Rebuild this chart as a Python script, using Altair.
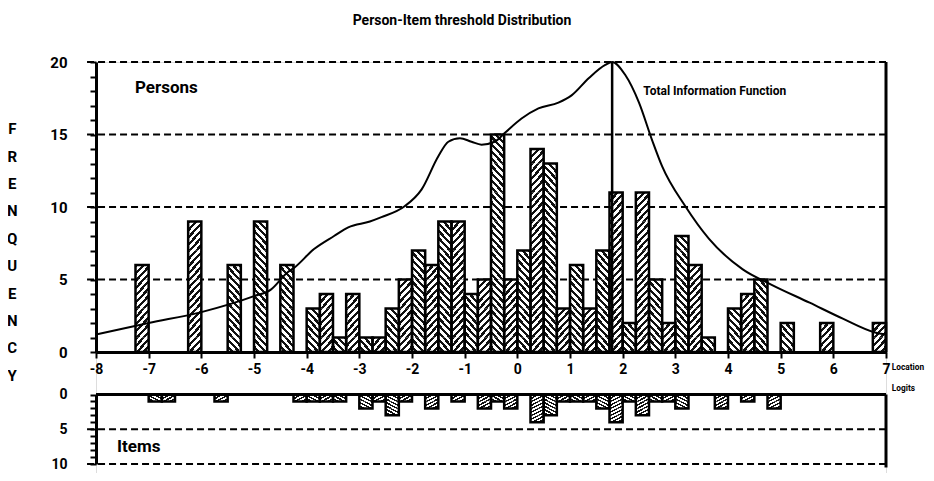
import altair as alt
import pandas as pd

FONT = "Roboto, Liberation Sans, sans-serif"

BIN_W = 0.25
# Persons: lower edge of each class interval (logits) and frequency
person_bin_start = [-7.25, -6.25, -5.5, -5.0, -4.5, -4.0, -3.75, -3.5, -3.25, -3.0, -2.75,
                    -2.5, -2.25, -2.0, -1.75, -1.5, -1.25, -1.0, -0.75, -0.5, -0.25, 0.0,
                    0.25, 0.5, 0.75, 1.0, 1.25, 1.5, 1.75, 2.0, 2.25, 2.5, 2.75, 3.0, 3.25,
                    3.5, 4.0, 4.25, 4.5, 5.0, 5.75, 6.75]
person_count = [6, 9, 6, 9, 6, 3, 4, 1, 4, 1, 1,
                3, 5, 7, 6, 9, 9, 4, 5, 15, 5, 7,
                14, 13, 3, 6, 3, 7, 11, 2, 11, 5, 2, 8, 6,
                1, 3, 4, 5, 2, 2, 2]
# Items (thresholds)
item_bin_start = [-7.0, -6.75, -5.75, -4.25, -4.0, -3.75, -3.5, -3.0, -2.75, -2.5, -2.25,
                  -1.75, -1.25, -0.75, -0.5, -0.25, 0.25, 0.5, 0.75, 1.0, 1.25, 1.5, 1.75,
                  2.0, 2.25, 2.5, 2.75, 3.0, 3.75, 4.25, 4.75]
item_count = [1, 1, 1, 1, 1, 1, 1, 2, 1, 3, 1,
              2, 1, 2, 1, 2, 4, 3, 1, 1, 1, 2, 4,
              1, 3, 1, 1, 2, 2, 1, 2]
# Total information function (scaled to frequency axis)
info_x = [-8.0, -7.0, -6.0, -5.0, -4.68, -4.36, -4.24, -3.86, -3.48, -3.21, -2.8, -2.58, -2.14,
          -1.82, -1.5, -1.31, -1.09, -0.87, -0.68, -0.43, -0.24, 0.08, 0.4, 0.78, 1.03,
          1.36, 1.67, 1.8, 2.05, 2.31, 2.56, 2.75, 3.19, 3.64, 4.28, 4.81, 5.55, 6.18,
          6.79, 7.0]
info_y = [1.2, 2.0, 2.75, 3.85, 4.3, 5.5, 5.8, 7.1, 8.0, 8.6, 9.0, 9.3, 10.05,
          11.2, 13.5, 14.5, 14.75, 14.5, 14.3, 14.5, 15.1, 16.1, 16.8, 17.2, 17.7,
          18.9, 19.8, 20.0, 19.1, 17.2, 14.6, 12.8, 10.05, 7.8, 5.7, 4.67, 3.4, 2.3,
          1.35, 1.2]
peak_x = [1.8]
x_ticks = list(range(-8, 8))
top_grid = [5, 10, 15, 20]
bottom_grid = [5, 10]

W, H = 790, 411
TOP_H = 290
BOT0, BOT1 = 332.5, 402


def units(starts, counts):
    rows = []
    for s, c in zip(starts, counts):
        k = int(round((s + 8) / BIN_W))
        for j in range(c):
            rows.append({"x0": s, "x1": s + BIN_W, "y0": j, "y1": j + 1, "fwd": k % 2})
    return pd.DataFrame(rows)


def bars(starts, counts):
    return pd.DataFrame({"x0": starts, "x1": [s + BIN_W for s in starts], "y0": 0, "y1": counts})


def hatch(fwd):
    n = 4
    stops = []
    for i in range(n):
        a, b, c = i / n, (i + 0.47) / n, (i + 1) / n
        stops += [alt.GradientStop(offset=a, color="#111"), alt.GradientStop(offset=b, color="#111"),
                  alt.GradientStop(offset=b, color="#fff"), alt.GradientStop(offset=c, color="#fff")]
    if fwd:
        return alt.LinearGradient(gradient="linear", x1=0, y1=0, x2=1, y2=1, stops=stops)
    return alt.LinearGradient(gradient="linear", x1=1, y1=0, x2=0, y2=1, stops=stops)


XS = alt.Scale(domain=[-8, 7], nice=False, zero=False)
XAX = alt.Axis(values=x_ticks, title=None, orient="bottom", offset=-(H - TOP_H), tickSize=6,
               tickWidth=2, tickColor="black", domainWidth=3, domainColor="black", grid=False,
               labelExpr="'' + datum.value",
               labelFont=FONT, labelFontSize=14, labelFontWeight="bold", labelColor="black",
               labelPadding=4, labelFlush=False, labelOverlap=False)


def X(field=None, datum=None):
    if datum is not None:
        return alt.X(datum=datum, type="quantitative", scale=XS, axis=XAX)
    return alt.X(field, type="quantitative", scale=XS, axis=XAX)


def YT(field=None, datum=None, axis=None):
    sc = alt.Scale(domain=[0, 20], range=[TOP_H, 0], nice=False, zero=False)
    if datum is not None:
        return alt.Y(datum=datum, type="quantitative", scale=sc, axis=axis)
    return alt.Y(field, type="quantitative", scale=sc, axis=axis)


def YB(field=None, datum=None, axis=None):
    sc = alt.Scale(domain=[0, 10], range=[BOT0, BOT1], nice=False, zero=False)
    if datum is not None:
        return alt.Y(datum=datum, type="quantitative", scale=sc, axis=axis)
    return alt.Y(field, type="quantitative", scale=sc, axis=axis)


def yaxis(vals, size):
    return alt.Axis(values=vals, title=None, orient="left", tickSize=6, tickWidth=2,
                    tickColor="black", domainWidth=3, domainColor="black", grid=False,
                    labelExpr="datum.value % 5 === 0 ? datum.label : ''",
                    labelFont=FONT, labelFontSize=size, labelFontWeight="bold",
                    labelColor="black", labelPadding=23)


DASH = [7, 4]

grid_top = alt.Chart(pd.DataFrame({"v": top_grid})).mark_rule(
    color="black", strokeWidth=2, strokeDash=DASH).encode(
    x=X(datum=-8.17), x2=alt.X2(datum=7), y=YT("v", axis=yaxis(list(range(0, 21)), 15)))

grid_bot = alt.Chart(pd.DataFrame({"v": bottom_grid})).mark_rule(
    color="black", strokeWidth=2, strokeDash=DASH).encode(
    x=X(datum=-8.17), x2=alt.X2(datum=7), y=YB("v", axis=yaxis(list(range(0, 11)), 14)))

pu = units(person_bin_start, person_count)
iu = units(item_bin_start, item_count)


def unit_layer(df, fwd, yfun):
    return alt.Chart(df).transform_filter(f"datum.fwd === {fwd}").mark_rect(
        fill=hatch(fwd == 1), strokeWidth=0).encode(
        x=X("x0"), x2="x1", y=yfun("y0"), y2="y1")


def outline(df, yfun):
    return alt.Chart(df).mark_rect(fillOpacity=0, stroke="black", strokeWidth=2.5).encode(
        x=X("x0"), x2="x1", y=yfun("y0"), y2="y1")


frame_df = pd.DataFrame({"a": [0]})
right_top = alt.Chart(frame_df).mark_rule(color="black", strokeWidth=3).encode(
    x=X(datum=7), y=YT(datum=0), y2=alt.Y2(datum=20))
right_bot = alt.Chart(frame_df).mark_rule(color="black", strokeWidth=3).encode(
    x=X(datum=7), y=YB(datum=0), y2=alt.Y2(datum=10.5))
top_bot = alt.Chart(frame_df).mark_rule(color="black", strokeWidth=3).encode(
    x=X(datum=-8), x2=alt.X2(datum=7), y=YB(datum=0))

curve = alt.Chart(pd.DataFrame({"x": info_x, "y": info_y})).mark_line(
    color="black", strokeWidth=2, interpolate="monotone").encode(x=X("x"), y=YT("y"))

peak = alt.Chart(pd.DataFrame({"x": peak_x})).mark_rule(color="black", strokeWidth=2.5).encode(
    x=X("x"), y=YT(datum=0), y2=alt.Y2(datum=20))


def label(text, x, y, yfun, size, **kw):
    return alt.Chart(frame_df).mark_text(
        text=text, font=FONT, fontSize=size, fontWeight="bold", color="black",
        align="left", baseline="middle", **kw).encode(x=X(datum=x), y=yfun(datum=y))


t_persons = label("Persons", -7.26, 18.24, YT, 17)
t_tif = label("Total Information Function", 2.39, 17.97, YT, 12)
t_items = label("Items", -7.6, 7.6, YB, 17)
t_loc = label("Location", 7.11, -1.07, YT, 8.3)
t_logit = label("Logits", 7.11, -2.55, YT, 8.3)
t_freq = alt.Chart(frame_df).mark_text(
    text="F\nR\nE\nN\nQ\nU\nE\nN\nC\nY", lineBreak="\n", lineHeight=27.4, font=FONT,
    fontSize=15, fontWeight="bold", color="black", align="center", baseline="top").encode(
    x=X(datum=-9.59), y=YT(datum=15.85))

chart = alt.layer(
    grid_top, grid_bot,
    unit_layer(pu, 1, YT), unit_layer(pu, 0, YT), outline(bars(person_bin_start, person_count), YT),
    unit_layer(iu, 1, YB), unit_layer(iu, 0, YB), outline(bars(item_bin_start, item_count), YB),
    right_top, right_bot, top_bot, curve, peak,
    t_persons, t_tif, t_items, t_loc, t_logit, t_freq,
).resolve_scale(y="independent").resolve_axis(y="independent").properties(
    width=W, height=H,
    title=alt.Title("Person-Item threshold Distribution", dx=-29, offset=27, font=FONT,
                    fontSize=14, fontWeight="bold", anchor="middle", color="black"),
    autosize=alt.AutoSizeParams(type="none"),
    padding={"left": 88, "top": 54, "right": 40, "bottom": 0},
).configure_view(strokeWidth=0).configure(background="white")

chart.save("out.html", embed_options={"renderer": "svg", "actions": False})
